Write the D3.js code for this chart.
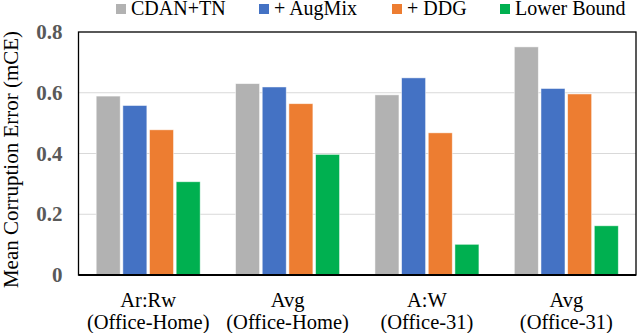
<!DOCTYPE html>
<html>
<head>
<meta charset="utf-8">
<script src="https://cdn.jsdelivr.net/npm/d3@7"></script>
<style>
  body { margin: 0; background: #fff; }
</style>
</head>
<body>
<div id="chart"></div>
<script>
// categories (two-line labels) and series
var categories = ["Ar:Rw|(Office-Home)", "Avg|(Office-Home)", "A:W|(Office-31)", "Avg|(Office-31)"];
var seriesNames = ["CDAN+TN", "+ AugMix", "+ DDG", "Lower Bound"];
var cdanTN = [0.589, 0.630, 0.593, 0.751];
var augMix = [0.558, 0.619, 0.649, 0.614];
var ddg = [0.478, 0.564, 0.468, 0.596];
var lowerBound = [0.307, 0.397, 0.101, 0.162];
var yTicks = [0, 0.2, 0.4, 0.6, 0.8];

var colors = ["#B2B2B2", "#4472C4", "#ED7D31", "#00B050"];
var allSeries = [cdanTN, augMix, ddg, lowerBound];
var serif = "'Liberation Serif', 'Times New Roman', serif";

var svgWidth = 640, svgHeight = 333;
var margin = {top: 32, right: 4, bottom: 58, left: 78.5};
var width = svgWidth - margin.left - margin.right;
var height = svgHeight - margin.top - margin.bottom;

var svg = d3.select("#chart").append("svg")
  .attr("width", svgWidth)
  .attr("height", svgHeight)
  .attr("font-family", serif);

var g = svg.append("g")
  .attr("transform", "translate(" + margin.left + "," + margin.top + ")");

// scales
var x0 = d3.scaleBand().domain(categories).range([0, width]).paddingInner(0.254).paddingOuter(0.127);
var x1 = d3.scaleBand().domain(seriesNames).range([0, x0.bandwidth()]).paddingInner(0.1);
var y = d3.scaleLinear().domain([0, 0.8]).range([height, 0]);

// gridlines
g.selectAll(".grid")
  .data(yTicks.slice(1, 4))
  .enter().append("line")
  .attr("x1", 0).attr("x2", width)
  .attr("y1", function (d) { return y(d); })
  .attr("y2", function (d) { return y(d); })
  .attr("stroke", "#D9D9D9")
  .attr("stroke-width", 1);

// bars
var groups = g.selectAll(".group")
  .data(categories)
  .enter().append("g")
  .attr("transform", function (d) { return "translate(" + x0(d) + ",0)"; });

groups.selectAll("rect")
  .data(function (d, i) {
    return seriesNames.map(function (s, j) { return {s: s, v: allSeries[j][i], c: colors[j]}; });
  })
  .enter().append("rect")
  .attr("x", function (d) { return x1(d.s); })
  .attr("width", x1.bandwidth())
  .attr("y", function (d) { return y(d.v); })
  .attr("height", function (d) { return height - y(d.v); })
  .attr("fill", function (d) { return d.c; })
  .attr("stroke", "#ffffff")
  .attr("stroke-opacity", 0.6)
  .attr("stroke-width", 0.8);

// frame
g.append("rect")
  .attr("x", 0).attr("y", 0)
  .attr("width", width).attr("height", height)
  .attr("fill", "none")
  .attr("stroke", "#000")
  .attr("stroke-width", 1.3);

g.append("line")
  .attr("x1", 0).attr("x2", width)
  .attr("y1", height).attr("y2", height)
  .attr("stroke", "#000")
  .attr("stroke-width", 2.2);

// y axis labels
var yAxis = d3.axisLeft(y).tickValues(yTicks).tickSize(0).tickPadding(16)
  .tickFormat(function (d) { return d === 0 ? "0" : d3.format(".1f")(d); });
var ya = g.append("g").call(yAxis)
  .attr("font-family", serif)
  .attr("font-size", 21)
  .attr("font-weight", "bold");
ya.select(".domain").remove();
ya.selectAll("text").attr("fill", "#595959");

// x axis labels
var xa = g.append("g").attr("transform", "translate(0," + height + ")")
  .call(d3.axisBottom(x0).tickSize(0).tickFormat(""))
  .attr("font-family", serif)
  .attr("font-size", 20.5);
xa.select(".domain").remove();
xa.selectAll(".tick").each(function (d) {
  var parts = d.split("|");
  var t = d3.select(this).append("text")
    .attr("text-anchor", "middle")
    .attr("fill", "#000");
  t.append("tspan").attr("x", 0).attr("y", 32).text(parts[0]);
  t.append("tspan").attr("x", 0).attr("y", 54).text(parts[1]);
});

// y title
svg.append("text")
  .attr("transform", "translate(17.5," + 159.5 + ") rotate(-90)")
  .attr("text-anchor", "middle")
  .attr("font-size", 21)
  .attr("fill", "#000")
  .text("Mean Corruption Error (mCE)");

// legend
var legendX = [116, 259, 392, 500];
var legend = svg.selectAll(".legend")
  .data(seriesNames)
  .enter().append("g")
  .attr("transform", function (d, i) { return "translate(" + legendX[i] + ",0)"; });
legend.append("rect")
  .attr("x", 0).attr("y", 4)
  .attr("width", 10).attr("height", 10)
  .attr("fill", function (d, i) { return colors[i]; });
legend.append("text")
  .attr("x", 15).attr("y", 15)
  .attr("font-size", 20)
  .attr("fill", "#000")
  .text(function (d) { return d; });
</script>
</body>
</html>
